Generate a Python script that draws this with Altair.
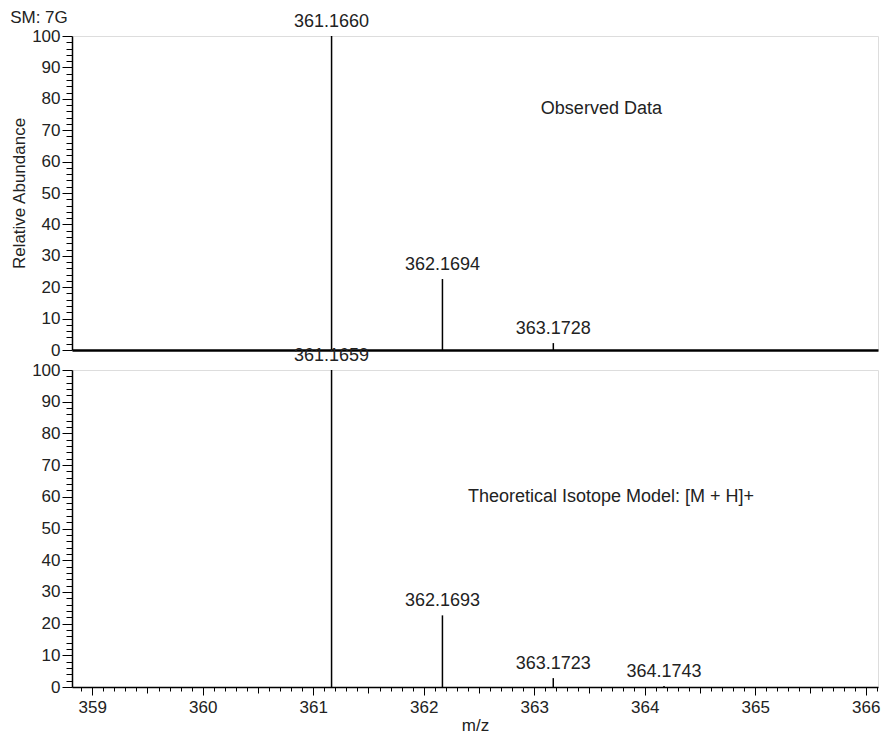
import altair as alt
import pandas as pd

FONT = "Liberation Sans"
TXT = "#222222"

# Observed data (top panel)
obs_mz = [361.1660, 362.1694, 363.1728]
obs_ab = [100.0, 22.6, 2.2]
obs_lab = ["361.1660", "362.1694", "363.1728"]

# Theoretical isotope model (bottom panel)
theo_mz = [361.1659, 362.1693, 363.1723, 364.1743]
theo_ab = [100.0, 22.6, 2.8, 0.3]
theo_lab = ["361.1659", "362.1693", "363.1723", "364.1743"]

# axes
x_domain = [358.817, 366.111]
x_ticks = [round(358.9 + 0.1 * i, 1) for i in range(73)]
y_ticks = list(range(0, 101, 2))

# annotations: text, x (m/z), y (abundance)
ann_obs = ("Observed Data", 363.06, 76.8)
ann_theo = ("Theoretical Isotope Model: [M + H]+", 362.40, 60.0)

W, H_TOP, H_BOT = 806, 314, 317

obs_df = pd.DataFrame({"mz": obs_mz, "ab": obs_ab, "lab": obs_lab, "base": 0})
theo_df = pd.DataFrame({"mz": theo_mz, "ab": theo_ab, "lab": theo_lab, "base": 0})

xscale = alt.Scale(domain=x_domain, nice=False, zero=False)
yscale = alt.Scale(domain=[0, 100], nice=False)

INT_TEST = "abs(datum.value - round(datum.value)) < 0.001"
HALF_TEST = "abs(datum.value - floor(datum.value) - 0.5) < 0.001"


def y_axis(title):
    kw = dict(
        values=y_ticks,
        tickCount=200,
        format="d",
        labelExpr="datum.value % 10 === 0 ? datum.label : ''",
        tickSize={"condition": {"test": "datum.value % 10 === 0", "value": 10}, "value": 6},
        labelPadding=2,
        grid=False,
        domainColor="black",
        domainWidth=1.5,
        tickColor="black",
        tickWidth=1,
        labelColor=TXT,
        labelFont=FONT,
        labelFontSize=17,
        labelOverlap=False,
        labelFlush=False,
    )
    if title:
        kw.update(title=title, titleFont=FONT, titleFontSize=17, titleFontWeight="normal",
                  titleColor=TXT, titlePadding=3)
    else:
        kw.update(title=None)
    return alt.Axis(**kw)


x_axis_top = alt.Axis(values=[], labels=False, ticks=False, title=None, grid=False,
                      domainColor="black", domainWidth=2.5)

x_axis_bot = alt.Axis(
    values=x_ticks,
    tickCount=500,
    format=".1f",
    labelExpr=INT_TEST + " ? format(datum.value, 'd') : ''",
    tickSize={"condition": [{"test": INT_TEST, "value": 8}, {"test": HALF_TEST, "value": 6}],
              "value": 4},
    labelPadding=4,
    grid=False,
    domainColor="black",
    domainWidth=1.5,
    tickColor="black",
    labelColor=TXT,
    labelFont=FONT,
    labelFontSize=17,
    labelOverlap=False,
    labelFlush=False,
    title="m/z",
    titleFont=FONT,
    titleFontSize=17,
    titleFontWeight="normal",
    titleColor=TXT,
    titlePadding=2,
)


def panel(df, ann, xaxis, ytitle, h):
    base = alt.Chart(df)
    sticks = base.mark_rule(color="black", strokeWidth=1.5).encode(
        x=alt.X("mz:Q", scale=xscale, axis=xaxis),
        y=alt.Y("ab:Q", scale=yscale, axis=y_axis(ytitle)),
        y2="base:Q",
    )
    labels = base.mark_text(dy=-5, baseline="bottom", font=FONT, fontSize=18, color=TXT).encode(
        x="mz:Q", y="ab:Q", text="lab:N"
    )
    note = alt.Chart(pd.DataFrame({"t": [ann[0]], "x": [ann[1]], "y": [ann[2]]})).mark_text(
        align="left", baseline="middle", font=FONT, fontSize=18, color=TXT
    ).encode(x="x:Q", y="y:Q", text="t:N")
    return alt.layer(sticks, labels, note).properties(width=W, height=h)


top = panel(obs_df, ann_obs, x_axis_top, "Relative Abundance", H_TOP)
bot = panel(theo_df, ann_theo, x_axis_bot, None, H_BOT)

chart = alt.vconcat(top, bot, spacing=20, bounds="flush").properties(
    padding={"left": 2, "top": 0, "right": 0, "bottom": 0},
    title=alt.TitleParams("SM:    7G", anchor="start", frame="bounds", font=FONT, fontSize=17,
                          fontWeight="normal", color=TXT, offset=-14),
).configure_view(stroke=None).configure(background="white")

chart.save("out.html", embed_options={"renderer": "svg", "actions": False})
